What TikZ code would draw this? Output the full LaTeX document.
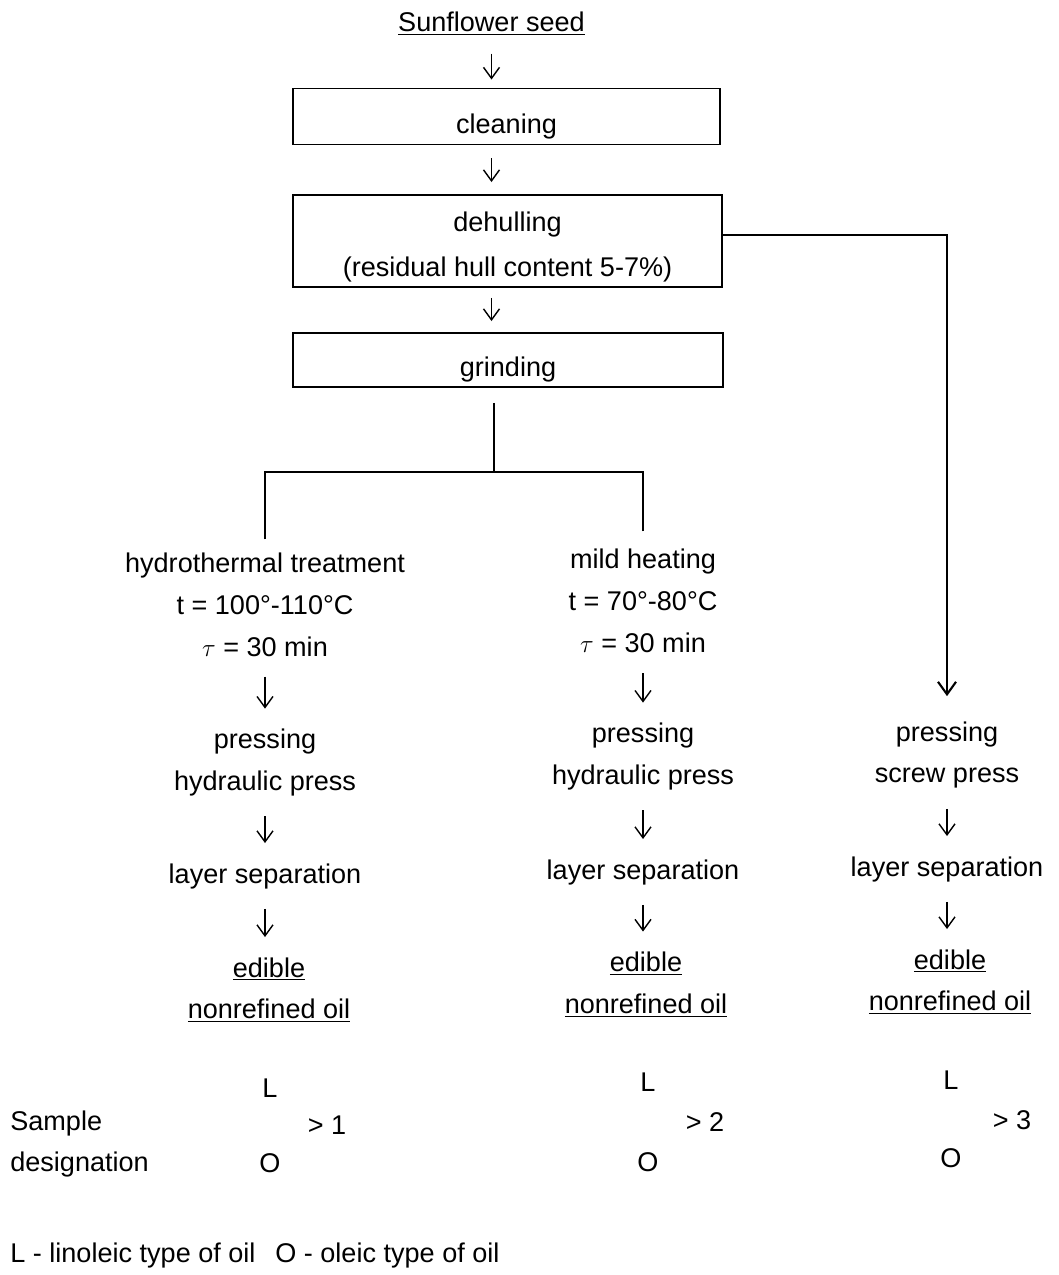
\documentclass[tikz,border=0pt]{standalone}
\usepackage{fontspec}
\setmainfont{Liberation Sans}
\usepackage{tikz}
\usetikzlibrary{arrows.meta,positioning}
\newcommand{\flowfont}{\fontsize{15.4}{23.8}\selectfont}
\tikzset{
  procbox/.style={draw,line width=1.1pt,minimum height=1.12cm,inner sep=2pt,font=\flowfont,align=center,text height=0.79cm},
  txtnode/.style={inner sep=0pt,font=\flowfont,align=center},
  forkedge/.style={line width=1.4pt},
  gapedge/.style={-{Straight Barb[length=2.2mm,width=3.2mm]},line width=0.8pt,shorten <=0.4cm,shorten >=0.4cm},
}

\begin{document}
\begin{tikzpicture}
  \useasboundingbox (0,0) rectangle (21.16,-25.5);
  % top chain
  \node[txtnode] (seed) at (9.83,-0.47) {\underline{Sunflower seed}};
  \node[procbox,minimum width=8.54cm] (clean) at (10.13,-2.33) {cleaning};
  \node[procbox,minimum width=8.58cm,minimum height=1.84cm,text height=1.53cm] (dehull) at (10.15,-4.82) {dehulling\\[0.06cm](residual hull content 5-7\%)};
  \node[procbox,minimum width=8.6cm,minimum height=1.08cm] (grind) at (10.16,-7.2) {grinding};
  \draw[gapedge,shorten <=0.36cm,shorten >=0.16cm] (seed) -- (seed |- clean.north);
  \draw[gapedge,shorten <=0.26cm,shorten >=0.24cm] (clean.south -| seed) -- (dehull.north -| seed);
  \draw[gapedge,shorten <=0.2cm,shorten >=0.22cm] (dehull.south -| seed) -- (grind.north -| seed);
  % column 1
  \node[txtnode] (treat1) at (5.30,-12.09) {hydrothermal treatment\\t = 100°-110°C\\$\tau$ = 30 min};
  \node[txtnode] (press1) at (5.30,-15.25) {pressing\\hydraulic press};
  \node[txtnode] (sep1) at (5.30,-17.52) {layer separation};
  \node[txtnode] (oil1) at (5.38,-19.8) {\underline{edible}\\\underline{nonrefined oil}};
  \node[txtnode] (L1) at (5.4,-21.76) {L};
  \node[txtnode] (gt1) at (6.54,-22.5) {> 1};
  \node[txtnode] (O1) at (5.4,-23.26) {O};
  % column 2
  \node[txtnode] (treat2) at (12.86,-12.02) {mild heating\\t = 70°-80°C\\$\tau$ = 30 min};
  \node[txtnode] (press2) at (12.86,-15.13) {pressing\\hydraulic press};
  \node[txtnode] (sep2) at (12.86,-17.44) {layer separation};
  \node[txtnode] (oil2) at (12.92,-19.69) {\underline{edible}\\\underline{nonrefined oil}};
  \node[txtnode] (L2) at (12.96,-21.64) {L};
  \node[txtnode] (gt2) at (14.1,-22.44) {> 2};
  \node[txtnode] (O2) at (12.96,-23.24) {O};
  % column 3
  \node[txtnode] (press3) at (18.94,-15.1) {pressing\\screw press};
  \node[txtnode] (sep3) at (18.94,-17.38) {layer separation};
  \node[txtnode] (oil3) at (19.0,-19.64) {\underline{edible}\\\underline{nonrefined oil}};
  \node[txtnode] (L3) at (19.02,-21.6) {L};
  \node[txtnode] (gt3) at (20.24,-22.4) {> 3};
  \node[txtnode] (O3) at (19.02,-23.16) {O};
  % legend
  \node[txtnode,anchor=west,align=left] (sample) at (0.2,-22.88) {Sample\\designation};
  \node[txtnode,anchor=west] (keyL) at (0.2,-25.1) {L - linoleic type of oil};
  \node[txtnode,anchor=west] (keyO) at (5.5,-25.1) {O - oleic type of oil};
  % fork below grinding
  \coordinate (fork) at (9.88,-9.44);
  \draw[forkedge] ([yshift=-0.3cm]grind.south -| fork) -- (fork);
  \draw[forkedge,shorten <=0.26cm] (treat1.north) |- (fork);
  \draw[forkedge,shorten <=0.35cm] (treat2.north) |- (fork);
  \draw[forkedge,line width=1.2pt,-{Straight Barb[length=2.5mm,width=3.6mm]},shorten >=0.5cm] ([yshift=0.12cm]dehull.east) -| (press3.north);
  % step arrows
  \draw[gapedge] (treat1) -- (press1);
  \draw[gapedge] (press1) -- (sep1);
  \draw[gapedge] (sep1) -- (sep1 |- oil1.north);
  \draw[gapedge] (treat2) -- (press2);
  \draw[gapedge] (press2) -- (sep2);
  \draw[gapedge] (sep2) -- (sep2 |- oil2.north);
  \draw[gapedge] (press3) -- (sep3);
  \draw[gapedge] (sep3) -- (sep3 |- oil3.north);
\end{tikzpicture}
\end{document}
